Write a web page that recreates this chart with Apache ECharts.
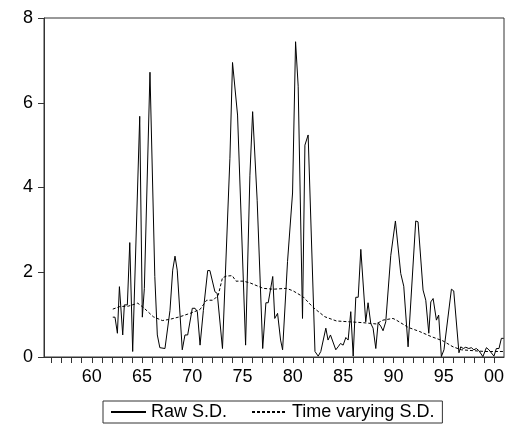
<!DOCTYPE html>
<html>
<head>
<meta charset="utf-8">
<script src="https://cdn.jsdelivr.net/npm/echarts@6/dist/echarts.min.js"></script>
<style>html,body{margin:0;padding:0;background:#fff;}#c{width:511px;height:439px;}</style>
</head>
<body>
<div id="c"></div>
<script>
// Raw S.D. : [year, value]
var rawYears = [1962.09,1962.31,1962.55,1962.75,1963.08,1963.24,1963.54,1963.78,1964.07,1964.77,1965.03,1965.23,1965.79,1966.27,1966.52,1966.77,1967.28,1967.78,1968.05,1968.28,1968.5,1969.0,1969.27,1969.54,1970.0,1970.27,1970.5,1970.77,1971.1,1971.53,1971.75,1972.25,1972.48,1973.0,1973.74,1974.0,1974.5,1975.3,1975.73,1976.0,1976.45,1977.0,1977.32,1977.55,1978.0,1978.2,1978.48,1978.78,1978.98,1979.47,1979.97,1980.27,1980.53,1980.96,1981.2,1981.52,1982.2,1982.52,1982.78,1983.28,1983.5,1983.74,1984.27,1984.5,1984.74,1985.0,1985.27,1985.5,1985.76,1986.0,1986.26,1986.5,1986.76,1987.25,1987.48,1987.75,1987.98,1988.25,1988.48,1988.74,1988.97,1989.24,1989.74,1990.2,1990.73,1991.03,1991.46,1992.22,1992.45,1992.95,1993.22,1993.52,1993.72,1993.95,1994.28,1994.5,1994.77,1995.03,1995.77,1996.0,1996.52,1996.7,1996.95,1997.2,1997.5,1997.75,1998.0,1998.25,1998.5,1998.9,1999.25,1999.5,2000.0,2000.24,2000.5,2000.74,2000.97];
var rawValues = [0.94,0.94,0.56,1.66,0.52,1.23,1.23,2.70,0.13,5.68,0.94,1.62,6.72,1.9,0.52,0.22,0.2,1.1,2.05,2.38,2.05,0.17,0.52,0.52,1.15,1.15,1.07,0.28,1.1,2.04,2.04,1.54,1.5,0.2,4.69,6.95,5.71,0.28,4.29,5.79,3.7,0.2,1.28,1.28,1.9,0.91,1.03,0.4,0.17,2.25,3.87,7.44,6.39,0.91,5.0,5.24,0.13,0.02,0.13,0.68,0.4,0.52,0.17,0.24,0.32,0.28,0.46,0.4,1.07,0.02,1.41,1.41,2.54,0.83,1.28,0.79,0.68,0.2,0.81,0.73,0.62,0.83,2.4,3.21,1.97,1.67,0.24,3.21,3.19,1.58,1.34,0.56,1.3,1.38,0.87,0.99,0.01,0.17,1.6,1.56,0.1,0.24,0.2,0.23,0.2,0.22,0.17,0.2,0.15,0.01,0.22,0.17,0.02,0.2,0.2,0.44,0.44];
// Time varying S.D. : [year, value]
var tvYears = [1962.09,1962.8,1963.64,1964.57,1965.13,1966.12,1967.02,1967.78,1968.77,1969.77,1970.76,1971.42,1972.08,1972.58,1973.0,1973.41,1973.97,1974.34,1975.07,1975.73,1977.05,1978.05,1979.37,1980.03,1981.02,1982.02,1983.18,1984.34,1985.66,1986.98,1988.3,1988.96,1989.96,1990.3,1991.46,1992.62,1993.78,1994.93,1995.93,1996.76,1997.91,1999.08,2000.9];
var tvValues = [1.13,1.19,1.2,1.27,1.17,0.95,0.86,0.89,0.95,1.03,1.12,1.34,1.34,1.46,1.87,1.91,1.92,1.79,1.79,1.75,1.62,1.6,1.62,1.56,1.42,1.17,0.95,0.85,0.83,0.81,0.78,0.87,0.91,0.87,0.7,0.6,0.48,0.38,0.24,0.17,0.15,0.13,0.13];
var yTicks = [0,2,4,6,8];
var xMinorTicks = [];
for (var y = 1956; y <= 2000; y++) xMinorTicks.push(y);
var xLabelTicks = [1960,1965,1970,1975,1980,1985,1990,1995,2000];

function pairs(xs, vs){ return xs.map(function(x,i){ return [x, vs[i]]; }); }

var chart = echarts.init(document.getElementById('c'), null, {renderer:'canvas'});
var font = '"Liberation Sans", Arial, sans-serif';
chart.setOption({
  animation: false,
  backgroundColor: '#fff',
  grid: {left:44, right:7, top:18, bottom:82, show:true, borderColor:'#333', borderWidth:1, backgroundColor:'transparent', containLabel:false},
  xAxis: {
    type:'value', min:1955.25, max:2001,
    axisLine:{show:true, onZero:false, lineStyle:{color:'#333', width:1}},
    axisTick:{show:true, customValues:xMinorTicks, length:6, lineStyle:{color:'#333'}},
    axisLabel:{show:true, customValues:xLabelTicks, margin:11, color:'#000', fontSize:18, fontFamily:font,
      formatter:function(v){ var s = String(Math.round(v)%100); return s.length<2 ? '0'+s : s; }},
    splitLine:{show:false}
  },
  yAxis: {
    type:'value', min:0, max:8, interval:2,
    axisLine:{show:true, lineStyle:{color:'#333', width:1}},
    axisTick:{show:true, length:6, lineStyle:{color:'#333'}},
    axisLabel:{color:'#000', fontSize:18, fontFamily:font, margin:11},
    splitLine:{show:false}
  },
  legend: {
    left:103, top:401, orient:'horizontal',
    borderColor:'#333', borderWidth:1, padding:[2,8,2,7],
    itemWidth:35, itemHeight:12, itemGap:24,
    itemStyle:{opacity:0},
    textStyle:{color:'#000', fontSize:18, fontFamily:font},
    data:['Raw S.D.','Time varying S.D.']
  },
  series: [
    {name:'Raw S.D.', type:'line', data:pairs(rawYears, rawValues), showSymbol:false, symbol:'none',
      lineStyle:{color:'#000', width:1}, itemStyle:{color:'#000'}},
    {name:'Time varying S.D.', type:'line', data:pairs(tvYears, tvValues), showSymbol:false, symbol:'none', smooth:false,
      lineStyle:{color:'#000', width:1, type:[3,2]}, itemStyle:{color:'#000'}}
  ]
});
</script>
</body>
</html>
